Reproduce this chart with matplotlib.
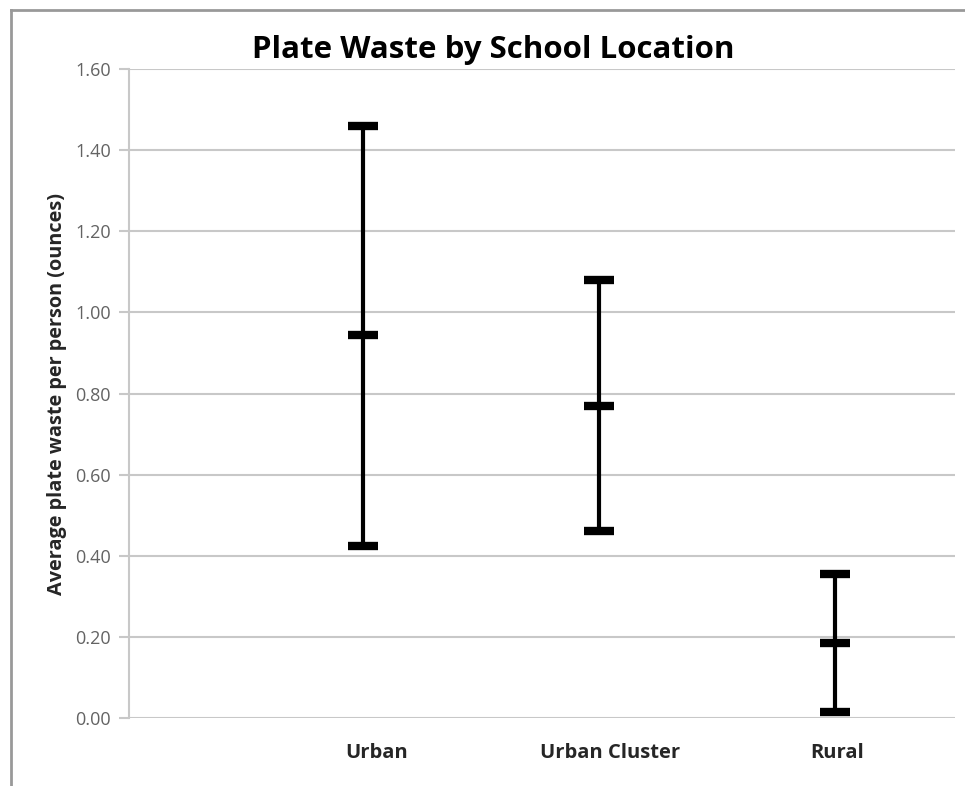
import matplotlib.pyplot as plt
from matplotlib.lines import Line2D

# data (ounces)
categories = ["Urban", "Urban Cluster", "Rural"]
high = [1.46, 1.08, 0.355]
mid = [0.945, 0.77, 0.185]
low = [0.425, 0.46, 0.015]
yticks = [0.0, 0.2, 0.4, 0.6, 0.8, 1.0, 1.2, 1.4, 1.6]

plt.rcParams['font.family'] = ['Open Sans', 'DejaVu Sans']

fig = plt.figure(figsize=(9.65, 7.86), dpi=100)
ax = fig.add_axes([0.1337, 0.0865, 0.8559, 0.8257])

x = list(range(len(categories)))

# high-low lines
ax.vlines(x, low, high, color='black', linewidth=3, zorder=3)
# the three dashes
for vals in (high, mid, low):
    ax.plot(x, vals, linestyle='none', marker='_', markersize=22,
            markeredgewidth=6, color='black', zorder=4)

ax.set_xlim(-0.99, 2.51)
ax.set_ylim(0, 1.6)
ax.set_yticks(yticks)
ax.set_yticklabels([f"{v:.2f}" for v in yticks], fontsize=13, color='#636363')
ax.yaxis.grid(True, color='#c8c8c8', linewidth=1.5)
ax.set_axisbelow(True)

# category labels sit a little right of the marks
ax.set_xticks([0.06, 1.05, 2.01])
ax.set_xticklabels(categories, fontsize=14.5, fontweight='bold', color='#262626')
ax.tick_params(axis='x', length=0, pad=18)
ax.tick_params(axis='y', length=7, width=1.5, color='#c8c8c8', pad=6)

for s in ('top', 'right', 'bottom'):
    ax.spines[s].set_visible(False)
ax.spines['left'].set_color('#c8c8c8')
ax.spines['left'].set_linewidth(1.5)

ax.set_ylabel("Average plate waste per person (ounces)", fontsize=14.3,
              fontweight='bold', color='#262626', labelpad=6)

fig.text(493 / 965, 1 - 50 / 786, "Plate Waste by School Location",
         ha='center', va='center', fontsize=22.5, fontweight='bold', color='black')

# outer chart border (cropped on right and bottom)
fig.add_artist(Line2D([11 / 965, 11 / 965], [0, 1 - 10 / 786],
                      transform=fig.transFigure, color='#999999', linewidth=2))
fig.add_artist(Line2D([11 / 965, 1], [1 - 10 / 786, 1 - 10 / 786],
                      transform=fig.transFigure, color='#999999', linewidth=2))

fig.savefig("out.png", dpi=100)
